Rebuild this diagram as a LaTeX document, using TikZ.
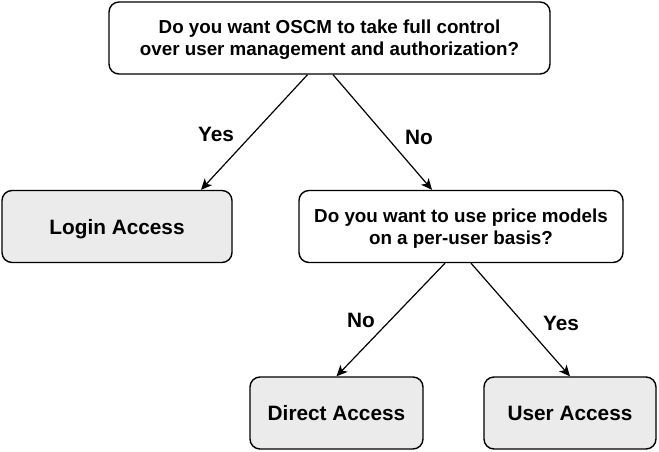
\documentclass[tikz,border=0pt]{standalone}
\usepackage{fontspec}
\setmainfont{Liberation Sans}
\usetikzlibrary{arrows.meta}
\definecolor{boxgray}{HTML}{EBEBEB}

\begin{document}
\begin{tikzpicture}[x=1pt, y=-1pt, font=\bfseries,
    box/.style={draw, rounded corners=10pt, line width=1.4pt, inner sep=0pt,
        align=center, minimum height=72pt, text depth=0pt},
    question/.style={box, fill=white, font=\bfseries\fontsize{18.8}{22}\selectfont},
    answer/.style={box, fill=boxgray, font=\bfseries\fontsize{20.8}{24}\selectfont},
    choice/.style={font=\bfseries\fontsize{20.8}{24}\selectfont},
    >={Stealth[length=11pt, width=10pt, inset=3pt]}]

\useasboundingbox (0, 0) rectangle (659, 452);

%\draw[step=50pt, gray!40] (0, 0) grid (659, 452);

\node[question, minimum width=441pt] (oscm) at (329.5, 38)
    {Do you want OSCM to take full control\\over user management and authorization?};
\node[answer, minimum width=230pt] (login) at (117, 226.5) {Login Access};
\node[question, minimum width=324pt] (price) at (461, 226.5)
    {Do you want to use price models\\on a per-user basis?};
\node[answer, minimum width=173pt] (direct) at (336.5, 413) {Direct Access};
\node[answer, minimum width=172pt] (user) at (570, 413) {User Access};

\draw[->, line width=1.2pt] ([xshift=-22pt]oscm.south) -- ([xshift=84pt]login.north);
\draw[->, line width=1.2pt] ([xshift=3.5pt]oscm.south) -- ([xshift=-29pt]price.north);
\draw[->, line width=1.2pt] ([xshift=-16pt]price.south) -- (direct.north);
\draw[->, line width=1.2pt] ([xshift=10pt]price.south) -- (user.north);

\node[choice] (yesone) at (216, 134) {Yes};
\node[choice] (noone) at (419, 137) {No};
\node[choice] (notwo) at (361, 320) {No};
\node[choice] (yestwo) at (561, 323) {Yes};

\end{tikzpicture}
\end{document}
